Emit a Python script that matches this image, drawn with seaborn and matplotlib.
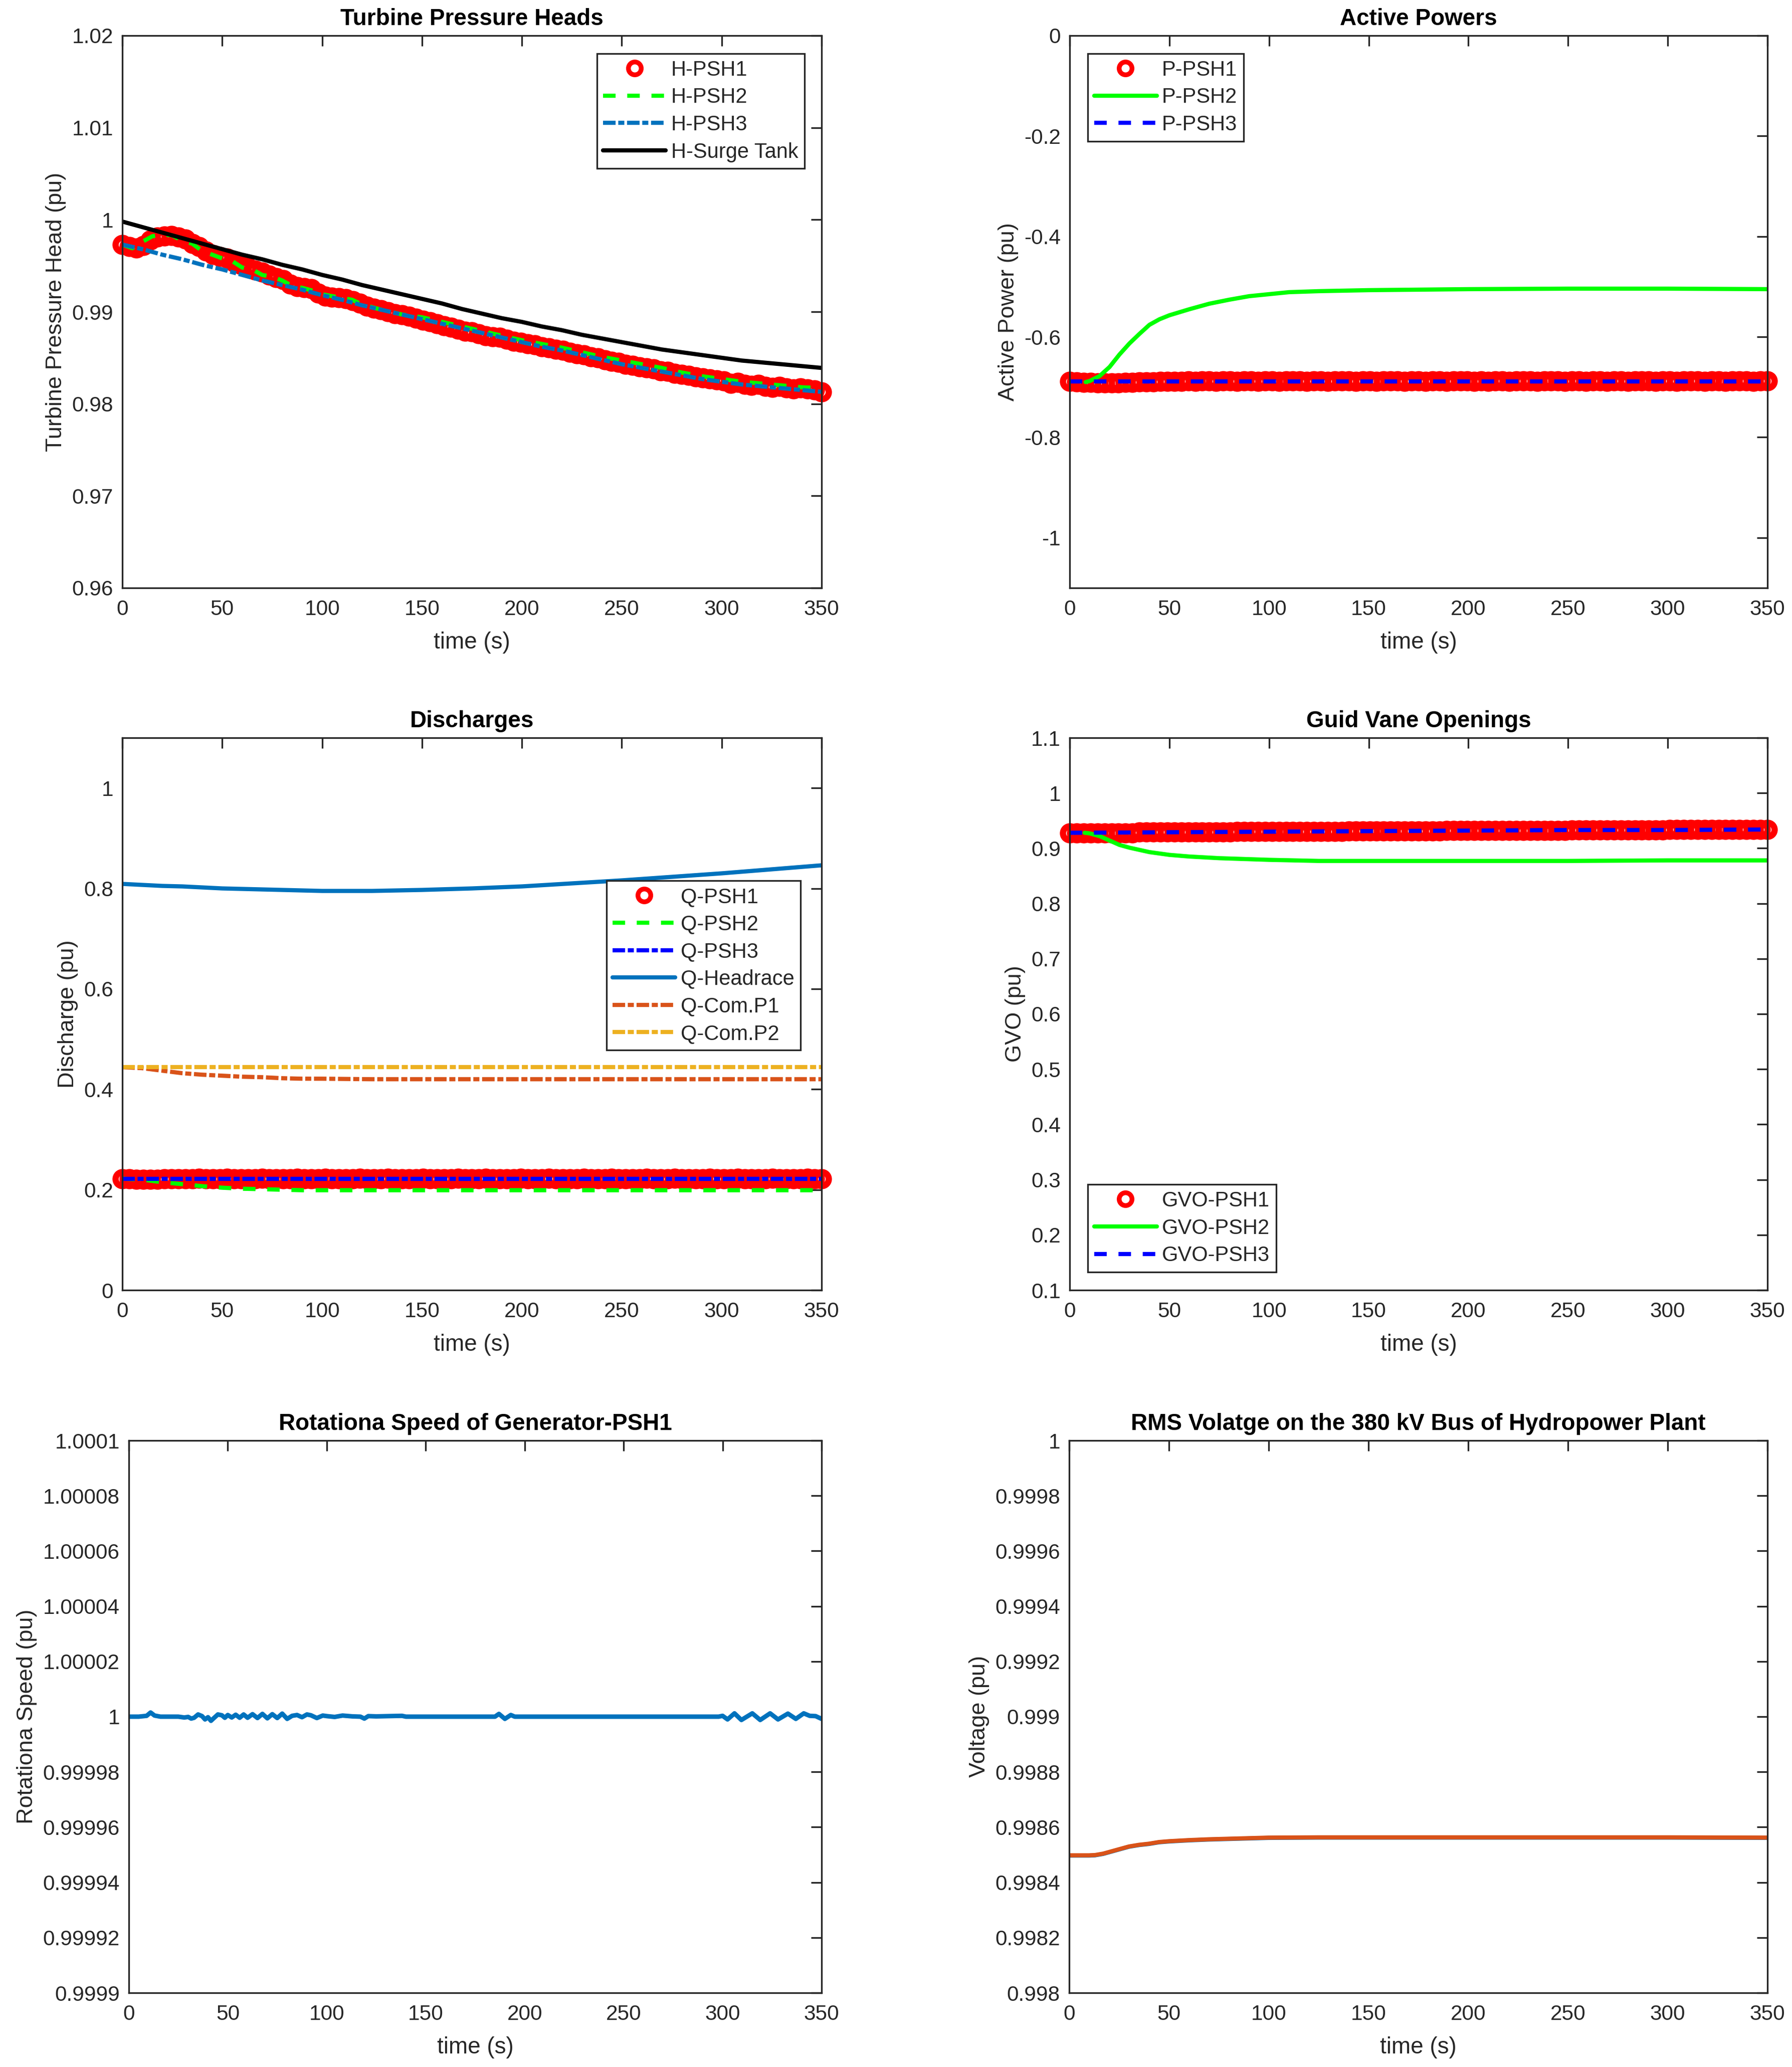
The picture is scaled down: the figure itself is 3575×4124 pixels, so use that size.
#Code for the pumped storage hydropower transient plots (6 panels)

import matplotlib.pyplot as plt
import seaborn as sns
import numpy as np
import pandas as pd
from matplotlib.ticker import FormatStrFormatter

# ---------------- data ----------------
# sample times (s) of the circle-marker series (PSH1) and of the smoother lines
t_r = [i * 3.5 for i in range(101)]
t10 = list(range(0, 360, 10))

# Turbine pressure heads (pu)
h_psh1 = [0.9973, 0.9971, 0.9969, 0.9972, 0.9978, 0.9981, 0.9982, 0.9983, 0.9981, 0.9979,
          0.9974, 0.9971, 0.9966, 0.9962, 0.9960, 0.9958, 0.9954, 0.9951, 0.9948, 0.9945,
          0.9943, 0.9940, 0.9937, 0.9935, 0.9930, 0.9927, 0.9926, 0.9925, 0.9920, 0.9917,
          0.9916, 0.9915, 0.9914, 0.9912, 0.9909, 0.9906, 0.9904, 0.9902, 0.9900, 0.9898,
          0.9897, 0.9895, 0.9893, 0.9891, 0.9889, 0.9887, 0.9885, 0.9883, 0.9881, 0.9879,
          0.9878, 0.9876, 0.9874, 0.9873, 0.9872, 0.9870, 0.9868, 0.9867, 0.9865, 0.9864,
          0.9862, 0.9861, 0.9859, 0.9858, 0.9856, 0.9854, 0.9853, 0.9851, 0.9850, 0.9848,
          0.9846, 0.9845, 0.9843, 0.9842, 0.9840, 0.9839, 0.9838, 0.9836, 0.9835, 0.9833,
          0.9832, 0.9831, 0.9829, 0.9828, 0.9827, 0.9826, 0.9825, 0.9822, 0.9823, 0.9821,
          0.9820, 0.9821, 0.9819, 0.9818, 0.9819, 0.9817, 0.9816, 0.9817, 0.9816, 0.9815,
          0.9813]
t_h2 = [0, 5, 10, 15, 20, 25, 30, 35, 40, 45, 50, 55, 60, 65, 70, 75, 80, 85, 90, 95,
        100, 105, 110, 115, 120, 125, 130, 140, 150, 160, 170, 180, 190, 200, 210, 220,
        230, 240, 250, 260, 270, 280, 290, 300, 310, 320, 330, 340, 350]
h_psh2 = [0.9973, 0.9969, 0.9976, 0.9982, 0.9984, 0.9983, 0.9977, 0.9974, 0.9966, 0.9962,
          0.9958, 0.9955, 0.9948, 0.9946, 0.9940, 0.9938, 0.9934, 0.9928, 0.9926, 0.9923,
          0.9919, 0.9917, 0.9915, 0.9913, 0.9908, 0.9905, 0.9902, 0.9897, 0.9894, 0.9889,
          0.9884, 0.9879, 0.9874, 0.9869, 0.9865, 0.9861, 0.9856, 0.9851, 0.9847, 0.9843,
          0.9839, 0.9834, 0.9830, 0.9827, 0.9824, 0.9822, 0.9820, 0.9818, 0.9817]
h_psh3 = [0.9973, 0.9968, 0.9962, 0.9957, 0.9951, 0.9946, 0.9940, 0.9934, 0.9929, 0.9924,
          0.9918, 0.9913, 0.9907, 0.9902, 0.9897, 0.9892, 0.9887, 0.9882, 0.9877, 0.9872,
          0.9867, 0.9862, 0.9858, 0.9853, 0.9848, 0.9843, 0.9839, 0.9835, 0.9831, 0.9827,
          0.9824, 0.9821, 0.9819, 0.9817, 0.9815, 0.9813]
h_surge = [0.9998, 0.9992, 0.9986, 0.9980, 0.9974, 0.9968, 0.9962, 0.9957, 0.9951, 0.9946,
           0.9940, 0.9935, 0.9929, 0.9924, 0.9919, 0.9914, 0.9909, 0.9903, 0.9898, 0.9893,
           0.9889, 0.9884, 0.9880, 0.9875, 0.9871, 0.9867, 0.9863, 0.9859, 0.9856, 0.9853,
           0.9850, 0.9847, 0.9845, 0.9843, 0.9841, 0.9839]

# Active powers (pu)
p_psh1 = [-0.689, -0.690, -0.691, -0.691, -0.692, -0.692, -0.692, -0.692, -0.691, -0.691,
          -0.690, -0.690, -0.690, -0.689, -0.689, -0.689, -0.689, -0.688, -0.689, -0.688,
          -0.688, -0.689, -0.688, -0.688, -0.689, -0.688, -0.688, -0.689, -0.688, -0.688,
          -0.689, -0.688, -0.688, -0.688, -0.689, -0.688, -0.688, -0.689, -0.688, -0.688,
          -0.688, -0.689, -0.688, -0.688, -0.689, -0.688, -0.688, -0.688, -0.689, -0.688,
          -0.688, -0.689, -0.688, -0.688, -0.689, -0.688, -0.688, -0.688, -0.689, -0.688,
          -0.689, -0.688, -0.688, -0.689, -0.688, -0.688, -0.688, -0.689, -0.688, -0.688,
          -0.688, -0.689, -0.688, -0.688, -0.689, -0.688, -0.688, -0.689, -0.688, -0.688,
          -0.689, -0.688, -0.688, -0.688, -0.689, -0.688, -0.688, -0.689, -0.688, -0.688,
          -0.688, -0.689, -0.688, -0.688, -0.689, -0.688, -0.688, -0.688, -0.689, -0.688,
          -0.688]
t_p2 = [8, 10, 15, 20, 25, 30, 35, 40, 45, 50, 60, 70, 80, 90, 100, 110, 125, 150, 200, 250, 300, 350]
p_psh2 = [-0.690, -0.688, -0.678, -0.660, -0.635, -0.613, -0.594, -0.576, -0.565, -0.557,
          -0.545, -0.534, -0.526, -0.519, -0.515, -0.511, -0.509, -0.507, -0.505, -0.504,
          -0.504, -0.505]
t_p3 = [0, 50, 100, 150, 200, 250, 300, 350]
p_psh3 = [-0.689, -0.689, -0.689, -0.689, -0.689, -0.689, -0.689, -0.689]

# Discharges (pu)
q_psh1 = [0.222, 0.222, 0.221, 0.221, 0.221, 0.221, 0.222, 0.222, 0.222, 0.222,
          0.222, 0.223, 0.222, 0.222, 0.222, 0.223, 0.222, 0.222, 0.222, 0.222,
          0.223, 0.222, 0.222, 0.222, 0.222, 0.223, 0.222, 0.222, 0.222, 0.223,
          0.222, 0.222, 0.222, 0.222, 0.223, 0.222, 0.222, 0.222, 0.223, 0.222,
          0.222, 0.222, 0.222, 0.223, 0.222, 0.222, 0.222, 0.222, 0.223, 0.222,
          0.222, 0.222, 0.223, 0.222, 0.222, 0.222, 0.222, 0.223, 0.222, 0.222,
          0.222, 0.223, 0.222, 0.222, 0.222, 0.222, 0.223, 0.222, 0.222, 0.222,
          0.223, 0.222, 0.222, 0.222, 0.222, 0.223, 0.222, 0.222, 0.222, 0.223,
          0.222, 0.222, 0.222, 0.222, 0.223, 0.222, 0.222, 0.222, 0.223, 0.222,
          0.222, 0.222, 0.222, 0.223, 0.222, 0.222, 0.222, 0.222, 0.223, 0.222,
          0.222]
t_q = [0, 10, 20, 30, 40, 50, 60, 70, 80, 90, 100, 125, 150, 175, 200, 225, 250, 275, 300, 325, 350]
q_psh2 = [0.222, 0.220, 0.215, 0.211, 0.207, 0.204, 0.202, 0.201, 0.200, 0.199, 0.199,
          0.199, 0.199, 0.199, 0.199, 0.199, 0.199, 0.199, 0.199, 0.199, 0.199]
q_psh3 = [0.222, 0.222, 0.222, 0.222, 0.222, 0.222, 0.222, 0.222, 0.222, 0.222, 0.222,
          0.222, 0.222, 0.222, 0.222, 0.222, 0.222, 0.222, 0.222, 0.222, 0.222]
q_headrace = [0.809, 0.807, 0.805, 0.804, 0.802, 0.800, 0.799, 0.798, 0.797, 0.796, 0.795,
              0.795, 0.797, 0.800, 0.804, 0.810, 0.816, 0.823, 0.830, 0.838, 0.846]
q_com_p1 = [0.444, 0.442, 0.437, 0.432, 0.429, 0.427, 0.425, 0.424, 0.422, 0.421, 0.421,
            0.420, 0.420, 0.420, 0.420, 0.420, 0.420, 0.420, 0.420, 0.420, 0.420]
q_com_p2 = [0.444, 0.444, 0.444, 0.444, 0.444, 0.444, 0.444, 0.444, 0.444, 0.444, 0.444,
            0.444, 0.444, 0.444, 0.444, 0.444, 0.444, 0.444, 0.444, 0.444, 0.444]

# Guide vane openings (pu)
gvo_psh1 = [0.928, 0.928, 0.928, 0.928, 0.928, 0.928, 0.928, 0.928, 0.928, 0.928,
            0.929, 0.929, 0.929, 0.929, 0.929, 0.929, 0.929, 0.929, 0.929, 0.929,
            0.929, 0.929, 0.929, 0.929, 0.930, 0.930, 0.930, 0.930, 0.930, 0.930,
            0.930, 0.930, 0.930, 0.930, 0.930, 0.930, 0.930, 0.930, 0.930, 0.930,
            0.931, 0.931, 0.931, 0.931, 0.931, 0.931, 0.931, 0.931, 0.931, 0.931,
            0.931, 0.931, 0.931, 0.931, 0.932, 0.932, 0.932, 0.932, 0.932, 0.932,
            0.932, 0.932, 0.932, 0.932, 0.932, 0.932, 0.932, 0.932, 0.932, 0.932,
            0.932, 0.932, 0.933, 0.933, 0.933, 0.933, 0.933, 0.933, 0.933, 0.933,
            0.933, 0.933, 0.933, 0.933, 0.933, 0.933, 0.934, 0.934, 0.934, 0.934,
            0.934, 0.934, 0.934, 0.934, 0.934, 0.934, 0.934, 0.934, 0.934, 0.934,
            0.934]
t_g2 = [7.5, 10, 15, 20, 25, 30, 35, 40, 50, 60, 75, 100, 125, 150, 200, 250, 300, 350]
gvo_psh2 = [0.928, 0.927, 0.922, 0.914, 0.906, 0.901, 0.897, 0.893, 0.888, 0.885,
            0.882, 0.879, 0.877, 0.877, 0.877, 0.877, 0.878, 0.878]
t_g3 = [0, 50, 100, 150, 200, 250, 300, 350]
gvo_psh3 = [0.928, 0.929, 0.930, 0.931, 0.932, 0.933, 0.933, 0.934]

# Rotational speed of generator PSH1 (pu)
t_w = [0, 5, 9, 11, 13, 16, 25, 28, 30, 31.5, 33, 35, 37, 38.5, 40, 41.5, 43, 45, 47, 48.5,
       50, 52, 54, 56, 58, 60, 62.5, 65, 67.5, 70, 72.5, 75, 77.5, 80, 82.5, 85, 87.5, 90,
       92, 95, 98, 100, 104, 108, 113, 117, 119, 121, 125, 138, 140, 185, 187, 190, 193,
       195, 298, 300, 302.5, 306, 309.5, 315, 319, 324, 328, 333, 337, 341, 344, 347, 350]
speed = [1.0000000, 1.0000000, 1.0000003, 1.0000015, 1.0000004, 1.0000000, 1.0000000,
         0.9999997, 0.9999999, 0.9999993, 0.9999996, 1.0000008, 1.0000002, 0.9999990,
         0.9999998, 0.9999985, 0.9999995, 1.0000008, 1.0000005, 0.9999996, 1.0000006,
         0.9999997, 1.0000007, 0.9999996, 1.0000008, 0.9999996, 1.0000009, 0.9999995,
         1.0000010, 0.9999994, 1.0000009, 0.9999995, 1.0000011, 0.9999992, 1.0000003,
         1.0000006, 0.9999998, 1.0000008, 1.0000005, 0.9999995, 1.0000004, 1.0000002,
         0.9999999, 1.0000004, 1.0000001, 1.0000000, 0.9999993, 1.0000002, 1.0000001,
         1.0000003, 1.0000000, 1.0000000, 1.0000010, 0.9999992, 1.0000006, 1.0000000,
         1.0000000, 1.0000003, 0.9999990, 1.0000012, 0.9999988, 1.0000012, 0.9999988,
         1.0000012, 0.9999990, 1.0000011, 0.9999992, 1.0000012, 1.0000003, 1.0000002,
         0.9999992]

# RMS voltage on the 380 kV bus (pu)
t_v = [0, 5, 10, 13, 17, 20, 25, 30, 35, 40, 45, 50, 60, 70, 80, 90, 100, 125, 150, 200, 250, 300, 350]
v_bus_a = [0.998497, 0.998497, 0.998497, 0.998498, 0.998503, 0.998509, 0.998519, 0.998529,
           0.998535, 0.998539, 0.998545, 0.998548, 0.998552, 0.998555, 0.998557, 0.998559,
           0.998561, 0.998562, 0.998562, 0.998562, 0.998562, 0.998562, 0.998561]
v_bus_b = [0.998498, 0.998498, 0.998498, 0.998499, 0.998504, 0.998510, 0.998520, 0.998530,
           0.998536, 0.998540, 0.998546, 0.998549, 0.998553, 0.998556, 0.998558, 0.998560,
           0.998562, 0.998563, 0.998563, 0.998563, 0.998563, 0.998563, 0.998562]

# ---------------- style ----------------
sns.set_theme(style="white")
plt.rcParams['font.family'] = ['Liberation Sans', 'DejaVu Sans']
dark = '#262626'
LW = 6.0
ring = dict(linestyle='none', marker='o', markersize=20, markerfacecolor='none',
            markeredgecolor='#FF0000', markeredgewidth=9, clip_on=False)
dashed = (0, (3.0, 2.8))
dashdot = (0, (3.0, 0.65, 1.45, 0.65))

W, H = 3575, 4124
fig = plt.figure(figsize=(W / 100, H / 100), dpi=100)


def rect(x0, x1, y0, y1):
    return [x0 / W, 1 - y1 / H, (x1 - x0) / W, (y1 - y0) / H]


def style_axes(ax, title, ylabel, ylim, yticks):
    ax.set_xlim(0, 350)
    ax.set_xticks(range(0, 351, 50))
    ax.set_ylim(*ylim)
    ax.set_yticks(yticks)
    ax.xaxis.set_major_formatter(FormatStrFormatter('%g'))
    ax.yaxis.set_major_formatter(FormatStrFormatter('%g'))
    ax.tick_params(direction='in', length=15, width=2.4, top=True, right=True,
                   labelsize=30.5, colors=dark)
    ax.tick_params(axis='x', pad=16.5)
    ax.tick_params(axis='y', pad=13)
    for s in ax.spines.values():
        s.set_linewidth(2.4)
        s.set_color(dark)
    ax.set_title(title, fontsize=33, fontweight='bold', pad=15, color='black')
    ax.set_xlabel('time (s)', fontsize=33, labelpad=17, color=dark)
    ax.set_ylabel(ylabel, fontsize=32.5, labelpad=8, color=dark)


def add_legend(ax, loc, anchor):
    leg = ax.legend(loc=loc, bbox_to_anchor=anchor, borderaxespad=0, fontsize=30,
                    frameon=True, fancybox=False, edgecolor=dark, framealpha=1,
                    handlelength=3.0, handletextpad=0.25, labelspacing=0.35,
                    borderpad=0.3, numpoints=1)
    leg.get_frame().set_linewidth(2.4)
    # keep the legend ring at the size it has in the reference
    leg.legend_handles[0].set_markersize(18.4)
    leg.legend_handles[0].set_markeredgewidth(6.8)


# Turbine Pressure Heads
ax1 = fig.add_axes(rect(244, 1639, 71, 1173))
sns.lineplot(x=t_r, y=h_psh1, ax=ax1, label='H-PSH1', estimator=None, **ring)
sns.lineplot(x=t_h2, y=h_psh2, ax=ax1, label='H-PSH2', estimator=None,
             color='#00FF00', lw=LW, linestyle=dashed)
sns.lineplot(x=t10, y=h_psh3, ax=ax1, label='H-PSH3', estimator=None,
             color='#0072BD', lw=LW, linestyle=dashdot)
sns.lineplot(x=t10, y=h_surge, ax=ax1, label='H-Surge Tank', estimator=None,
             color='black', lw=LW)
style_axes(ax1, 'Turbine Pressure Heads', 'Turbine Pressure Head (pu)', (0.96, 1.02),
           [0.96, 0.97, 0.98, 0.99, 1.0, 1.01, 1.02])
add_legend(ax1, 'upper right', (0.9756, 0.967))

# Active Powers
ax2 = fig.add_axes(rect(2134, 3526, 71, 1173))
sns.lineplot(x=t_r, y=p_psh1, ax=ax2, label='P-PSH1', estimator=None, **ring)
sns.lineplot(x=t_p2, y=p_psh2, ax=ax2, label='P-PSH2', estimator=None,
             color='#00FF00', lw=LW)
sns.lineplot(x=t_p3, y=p_psh3, ax=ax2, label='P-PSH3', estimator=None,
             color='#0000FF', lw=LW, linestyle=dashed)
style_axes(ax2, 'Active Powers', 'Active Power (pu)', (-1.1, 0),
           [-1.0, -0.8, -0.6, -0.4, -0.2, 0.0])
add_legend(ax2, 'upper left', (0.026, 0.967))

# Discharges
ax3 = fig.add_axes(rect(244, 1639, 1472, 2574))
sns.lineplot(x=t_r, y=q_psh1, ax=ax3, label='Q-PSH1', estimator=None, **ring)
sns.lineplot(x=t_q, y=q_psh2, ax=ax3, label='Q-PSH2', estimator=None,
             color='#00FF00', lw=LW, linestyle=dashed)
sns.lineplot(x=t_q, y=q_psh3, ax=ax3, label='Q-PSH3', estimator=None,
             color='#0000FF', lw=LW, linestyle=dashdot)
sns.lineplot(x=t_q, y=q_headrace, ax=ax3, label='Q-Headrace', estimator=None,
             color='#0072BD', lw=LW)
sns.lineplot(x=t_q, y=q_com_p1, ax=ax3, label='Q-Com.P1', estimator=None,
             color='#D95319', lw=LW, linestyle=dashdot)
sns.lineplot(x=t_q, y=q_com_p2, ax=ax3, label='Q-Com.P2', estimator=None,
             color='#EDB120', lw=LW, linestyle=dashdot)
style_axes(ax3, 'Discharges', 'Discharge (pu)', (0, 1.1),
           [0, 0.2, 0.4, 0.6, 0.8, 1.0])
add_legend(ax3, 'upper right', (0.970, 0.741))

# Guide vane openings
ax4 = fig.add_axes(rect(2134, 3526, 1472, 2574))
sns.lineplot(x=t_r, y=gvo_psh1, ax=ax4, label='GVO-PSH1', estimator=None, **ring)
sns.lineplot(x=t_g2, y=gvo_psh2, ax=ax4, label='GVO-PSH2', estimator=None,
             color='#00FF00', lw=LW)
sns.lineplot(x=t_g3, y=gvo_psh3, ax=ax4, label='GVO-PSH3', estimator=None,
             color='#0000FF', lw=LW, linestyle=dashed)
style_axes(ax4, 'Guid Vane Openings', 'GVO (pu)', (0.1, 1.1),
           [0.1, 0.2, 0.3, 0.4, 0.5, 0.6, 0.7, 0.8, 0.9, 1.0, 1.1])
add_legend(ax4, 'lower left', (0.026, 0.033))

# Rotational speed
ax5 = fig.add_axes(rect(257, 1639, 2874, 3976))
sns.lineplot(x=t_w, y=speed, ax=ax5, estimator=None, color='#0072BD', lw=6.5)
style_axes(ax5, 'Rotationa Speed of Generator-PSH1', 'Rotationa Speed (pu)',
           (0.9999, 1.0001),
           [0.9999, 0.99992, 0.99994, 0.99996, 0.99998, 1.0,
            1.00002, 1.00004, 1.00006, 1.00008, 1.0001])

# RMS voltage
ax6 = fig.add_axes(rect(2133, 3526, 2874, 3976))
sns.lineplot(x=t_v, y=v_bus_a, ax=ax6, estimator=None, color='#0072BD', lw=LW)
sns.lineplot(x=t_v, y=v_bus_b, ax=ax6, estimator=None, color='#D95319', lw=LW)
style_axes(ax6, 'RMS Volatge on the 380 kV Bus of Hydropower Plant', 'Voltage (pu)',
           (0.998, 1.0),
           [0.998, 0.9982, 0.9984, 0.9986, 0.9988, 0.999, 0.9992, 0.9994,
            0.9996, 0.9998, 1.0])

fig.savefig('out.png', dpi=100)
